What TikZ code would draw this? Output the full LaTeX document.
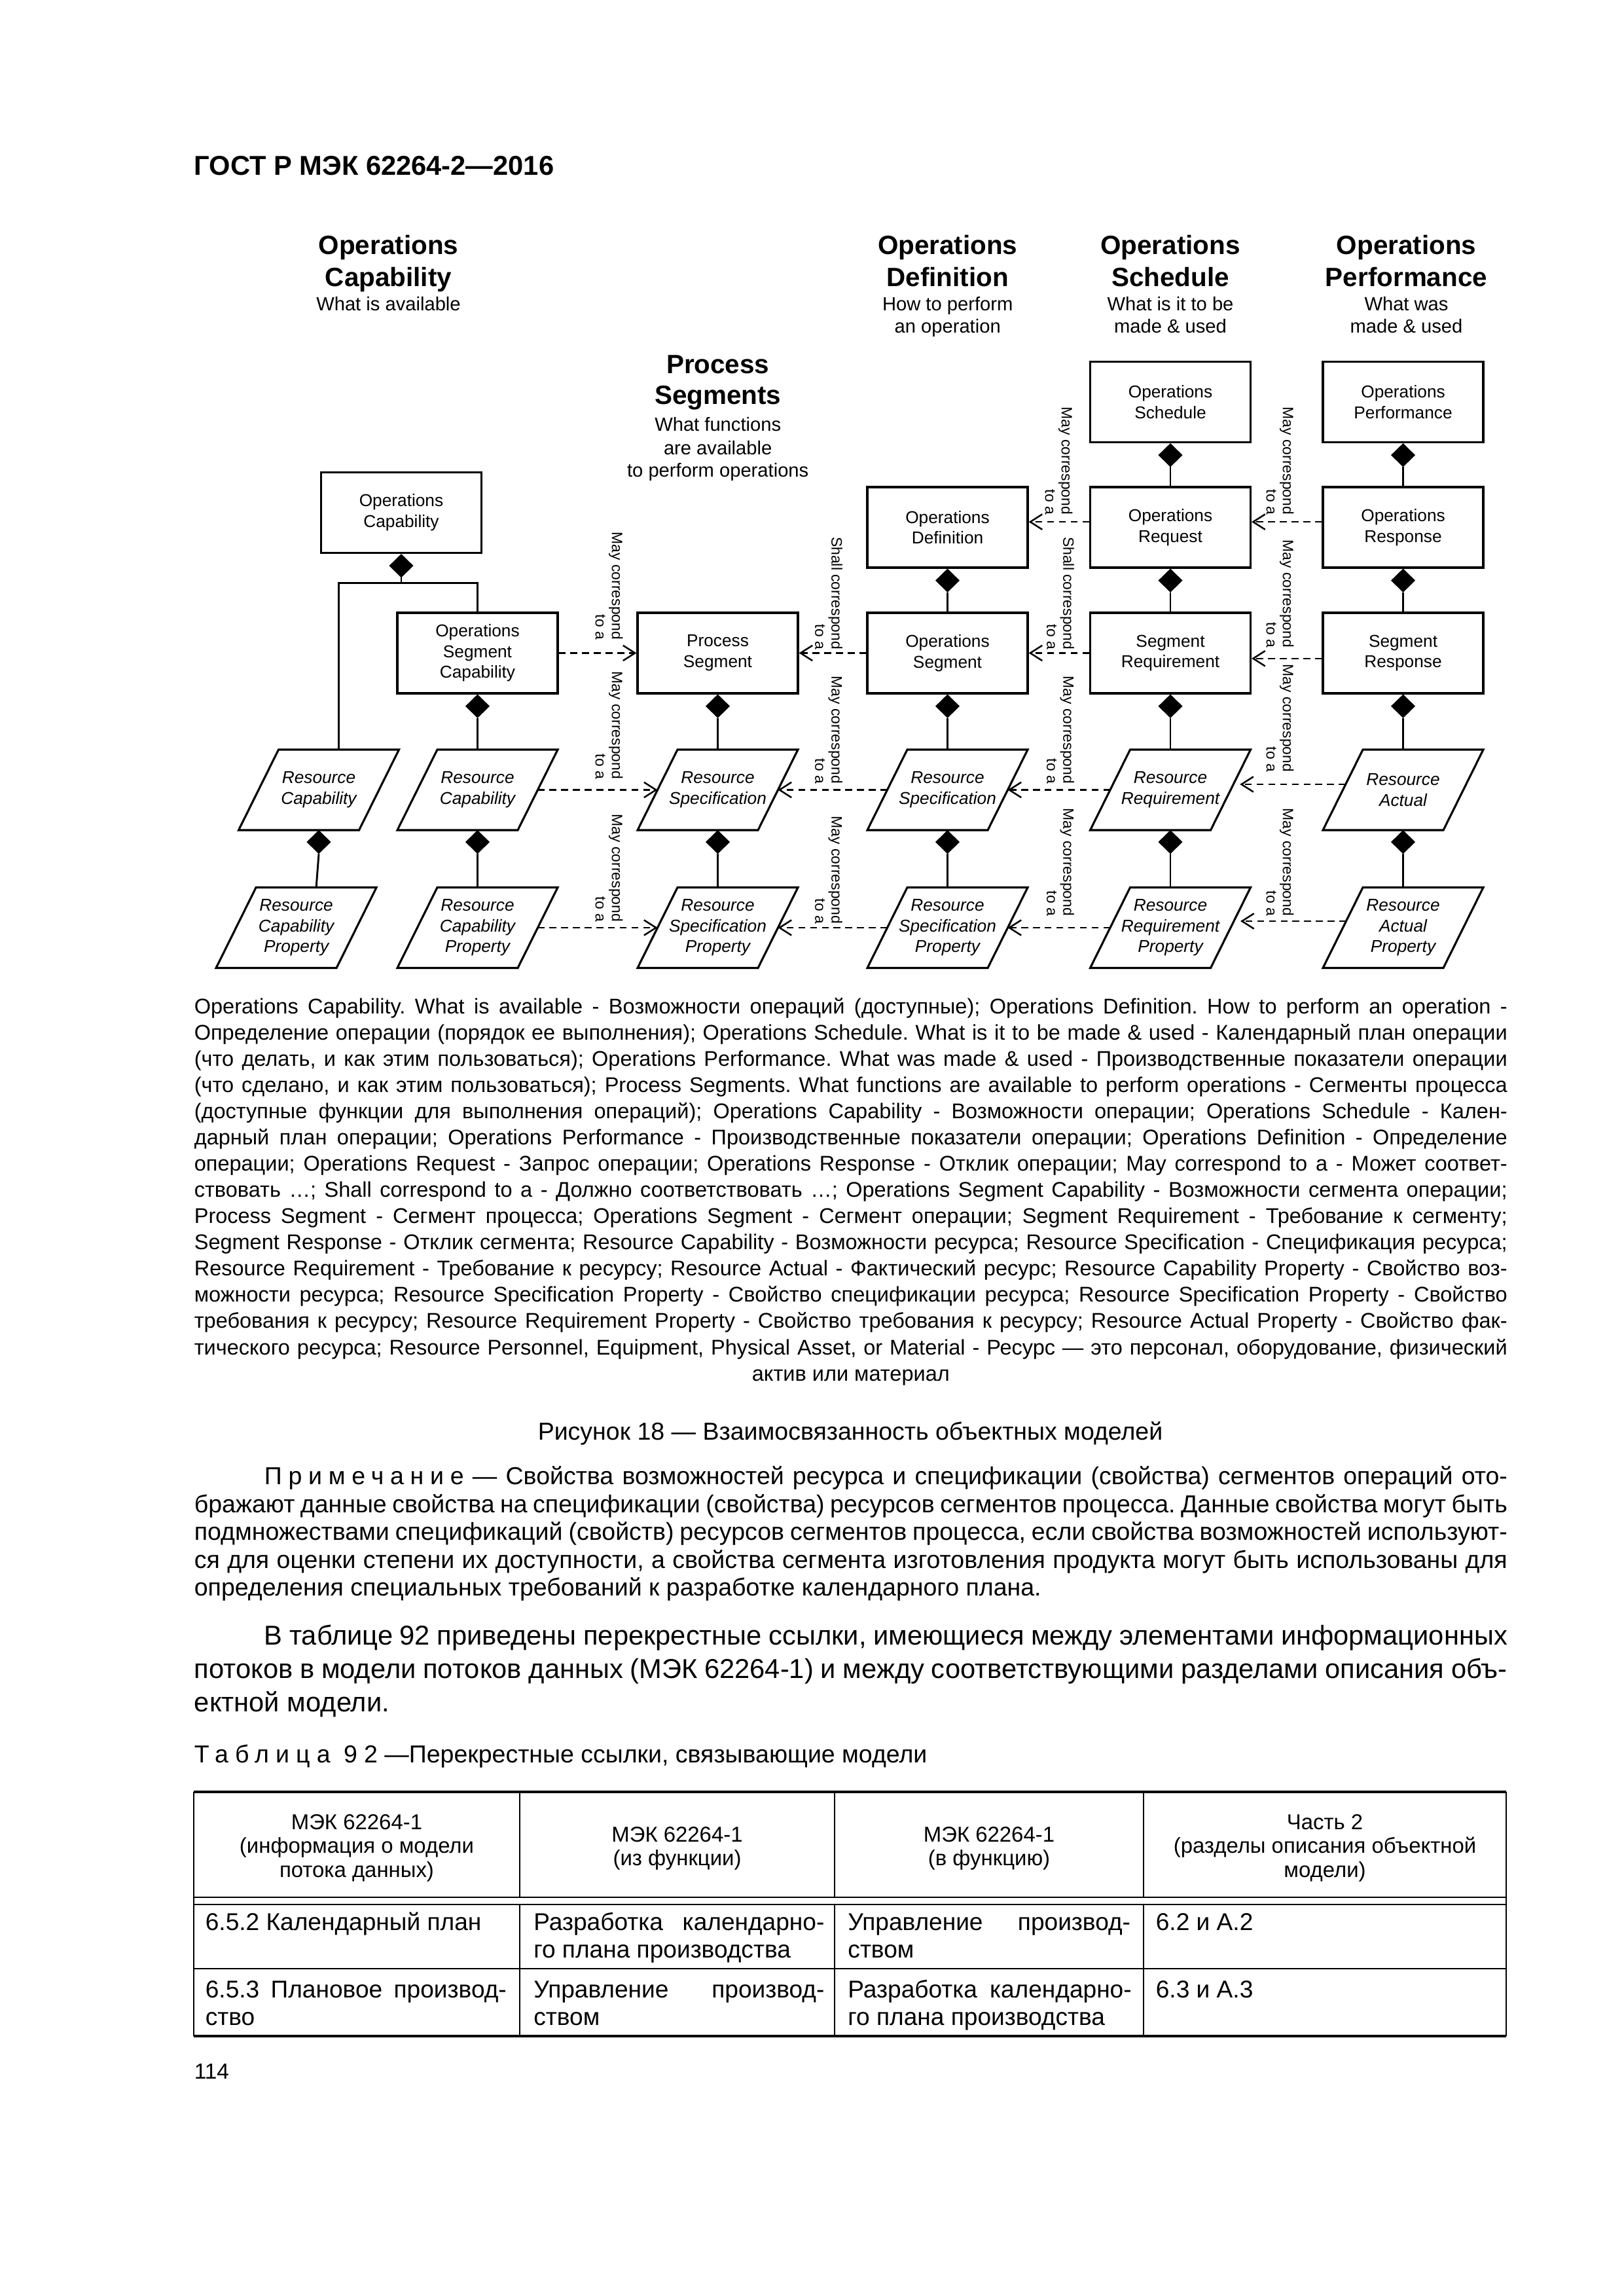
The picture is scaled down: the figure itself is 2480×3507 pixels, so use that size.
\documentclass[tikz,border=0pt]{standalone}
\usepackage{fontspec}
\setmainfont{Liberation Sans}
\usetikzlibrary{arrows.meta,calc,shapes.geometric}
\tolerance=9999
\hyphenpenalty=10000
\frenchspacing
\newcommand{\paraline}[1]{%
  \draw[line width=0.75pt,line join=miter] (#1.south west) -- ($(#1.south west)+(184,0)$) -- (#1.north east) -- ($(#1.north east)+(-184,0)$) -- cycle;}
\begin{document}
\begin{tikzpicture}[x=0.24pt,y=-0.24pt,
  objbox/.style={draw,line width=0.75pt,minimum width=58.8pt,minimum height=29.52pt,inner sep=0pt,align=center,font=\fontsize{6.3}{7.6}\selectfont},
  parabox/.style={minimum width=58.8pt,minimum height=29.52pt,inner sep=0pt,outer sep=0pt,align=center,font=\fontsize{6.3}{7.6}\selectfont\itshape},
  compdia/.style={diamond,fill=black,inner sep=0pt,outer sep=0pt,minimum width=8.9pt,minimum height=8.7pt,anchor=north},
  solidlink/.style={line width=0.7pt},
  corrarrow/.style={line width=0.6pt,dash pattern=on 2.5pt off 1.8pt,-{Straight Barb[length=4.4pt,width=5.6pt,line width=0.6pt]}},
  corrlabel/.style={rotate=-90,anchor=east,align=right,inner sep=0pt,font=\fontsize{5.5}{6}\selectfont},
  hdtitle/.style={anchor=base,inner sep=0pt,font=\fontsize{9.7}{11}\selectfont\bfseries},
  hdsub/.style={anchor=base,inner sep=0pt,font=\fontsize{7}{8}\selectfont},
  plaintext/.style={anchor=base west,inner sep=0pt},
  tblhead/.style={anchor=base,inner sep=0pt,font=\fontsize{7.9}{8.8}\selectfont},
  tblcell/.style={anchor=base west,inner sep=0pt,align=justify,font=\fontsize{8.9}{10.1}\selectfont},
  tblrule/.style={line width=0.55pt},
  tblouter/.style={line width=0.8pt}
]
\fill[white] (0,0) rectangle (2480,3507);
\useasboundingbox (0,0) rectangle (2480,3507);

% page header
\node[plaintext,font=\fontsize{10}{12}\selectfont\bfseries] (pghead) at (296,268) {ГОСТ Р МЭК 62264-2—2016};

% column headers
\node[hdtitle] (h1a) at (593.5,389) {Operations};
\node[hdtitle] (h1b) at (593.5,437.5) {Capability};
\node[hdsub] (h1c) at (593.5,475) {What is available};

\node[hdtitle] (h2a) at (1096.7,571) {Process};
\node[hdtitle] (h2b) at (1096.7,618) {Segments};
\node[hdsub] (h2c) at (1096.7,659) {What functions};
\node[hdsub] (h2d) at (1096.7,695) {are available};
\node[hdsub] (h2e) at (1096.7,729) {to perform operations};

\node[hdtitle] (h3a) at (1447.7,389) {Operations};
\node[hdtitle] (h3b) at (1447.7,437.5) {Definition};
\node[hdsub] (h3c) at (1447.7,475) {How to perform};
\node[hdsub] (h3d) at (1447.7,509) {an operation};

\node[hdtitle] (h4a) at (1788,389) {Operations};
\node[hdtitle] (h4b) at (1788,437.5) {Schedule};
\node[hdsub] (h4c) at (1788,475) {What is it to be};
\node[hdsub] (h4d) at (1788,509) {made \& used};

\node[hdtitle] (h5a) at (2148.5,389) {Operations};
\node[hdtitle] (h5b) at (2148.5,437.5) {Performance};
\node[hdsub] (h5c) at (2148.5,475) {What was};
\node[hdsub] (h5d) at (2148.5,509) {made \& used};

% boxes
\node[objbox] (oc) at (613,783) {Operations\\Capability};
\node[objbox] (osc) at (729.5,997.5) {Operations\\Segment\\Capability};
\node[objbox] (ps) at (1096.5,997.5) {Process\\Segment};
\node[objbox] (od) at (1447.5,805.5) {Operations\\Definition};
\node[objbox] (oseg) at (1447.5,997.5) {Operations\\Segment};
\node[objbox] (osch) at (1788,614) {Operations\\Schedule};
\node[objbox] (oreq) at (1788,805.5) {Operations\\Request};
\node[objbox] (sreq) at (1788,997.5) {Segment\\Requirement};
\node[objbox] (operf) at (2143.5,614) {Operations\\Performance};
\node[objbox] (oresp) at (2143.5,805.5) {Operations\\Response};
\node[objbox] (sresp) at (2143.5,997.5) {Segment\\Response};

% parallelograms
\node[parabox] (rc0) at (487,1206.5) {Resource\\Capability};
\node[parabox] (rc1) at (729.5,1206.5) {Resource\\Capability};
\node[parabox] (rs2) at (1096.5,1206.5) {Resource\\Specification};
\node[parabox] (rs3) at (1447.5,1206.5) {Resource\\Specification};
\node[parabox] (rr4) at (1788,1206.5) {Resource\\Requirement};
\node[parabox] (ra5) at (2143.5,1206.5) {Resource\\Actual};
\node[parabox] (rcp0) at (452.6,1417) {Resource\\Capability\\Property};
\node[parabox] (rcp1) at (729.5,1417) {Resource\\Capability\\Property};
\node[parabox] (rsp2) at (1096.5,1417) {Resource\\Specification\\Property};
\node[parabox] (rsp3) at (1447.5,1417) {Resource\\Specification\\Property};
\node[parabox] (rrp4) at (1788,1417) {Resource\\Requirement\\Property};
\node[parabox] (rap5) at (2143.5,1417) {Resource\\Actual\\Property};
\foreach \p in {rc0,rc1,rs2,rs3,rr4,ra5,rcp0,rcp1,rsp2,rsp3,rrp4,rap5} {\paraline{\p}}

% composition diamonds
\foreach \p in {oc,osc,ps,od,oseg,osch,oreq,sreq,operf,oresp,sresp,rc0,rc1,rs2,rs3,rr4,ra5}
  {\node[compdia] (d-\p) at (\p.south) {};}

% composition links
\draw[solidlink] (d-oc.south) -- ++(0,8) coordinate (ocbr);
\draw[solidlink] (ocbr) -| (osc.north);
\draw[solidlink] (ocbr) -| ($(rc0.north)+(30.5,0)$);
\draw[solidlink] (d-osch.south) -- (oreq.north);
\draw[solidlink] (d-operf.south) -- (oresp.north);
\draw[solidlink] (d-od.south) -- (oseg.north);
\draw[solidlink] (d-oreq.south) -- (sreq.north);
\draw[solidlink] (d-oresp.south) -- (sresp.north);
\draw[solidlink] (d-osc.south) -- (rc1.north);
\draw[solidlink] (d-ps.south) -- (rs2.north);
\draw[solidlink] (d-oseg.south) -- (rs3.north);
\draw[solidlink] (d-sreq.south) -- (rr4.north);
\draw[solidlink] (d-sresp.south) -- (ra5.north);
\draw[solidlink] (d-rc0.south) -- ($(rcp0.north)+(30.5,0)$);
\draw[solidlink] (d-rc1.south) -- (rcp1.north);
\draw[solidlink] (d-rs2.south) -- (rsp2.north);
\draw[solidlink] (d-rs3.south) -- (rsp3.north);
\draw[solidlink] (d-rr4.south) -- (rrp4.north);
\draw[solidlink] (d-ra5.south) -- (rap5.north);

% correspondence arrows
\draw[corrarrow] (osc.east) -- (ps.west);
\draw[corrarrow] (oseg.west) -- (ps.east);
\draw[corrarrow] (sreq.west) -- (oseg.east);
\draw[corrarrow] ([yshift=-2pt]sresp.west) -- ([yshift=-2pt]sreq.east);
\draw[corrarrow] ([yshift=2pt]oreq.west) -- ([yshift=2pt]od.east);
\draw[corrarrow] ([yshift=2pt]oresp.west) -- ([yshift=2pt]oreq.east);
\draw[corrarrow] ($(rc1.east)+(-30.5,0)$) -- ($(rs2.west)+(30.5,0)$);
\draw[corrarrow] ($(rs3.west)+(30.5,0)$) -- ($(rs2.east)+(-30.5,0)$);
\draw[corrarrow] ($(rr4.west)+(30.5,0)$) -- ($(rs3.east)+(-30.5,0)$);
\draw[corrarrow,shorten >=2.4pt] ($(ra5.west)+(34.7,-8.5)$) -- ($(rr4.east)+(-26.3,-8.5)$);
\draw[corrarrow] ($(rcp1.east)+(-30.5,0)$) -- ($(rsp2.west)+(30.5,0)$);
\draw[corrarrow] ($(rsp3.west)+(30.5,0)$) -- ($(rsp2.east)+(-30.5,0)$);
\draw[corrarrow] ($(rrp4.west)+(30.5,0)$) -- ($(rsp3.east)+(-30.5,0)$);
\draw[corrarrow,shorten >=2.4pt] ($(rap5.west)+(35.5,-10)$) -- ($(rrp4.east)+(-25.5,-10)$);

% correspondence labels
\node[corrlabel] (l1) at (930.5,978) {May correspond\\to a};
\node[corrlabel] (l2) at (1266,993) {Shall correspond\\to a};
\node[corrlabel] (l3) at (1620,993) {Shall correspond\\to a};
\node[corrlabel] (l4) at (1955.5,990) {May correspond\\to a};
\node[corrlabel] (l5) at (1617.5,787) {May correspond\\to a};
\node[corrlabel] (l6) at (1955.5,787) {May correspond\\to a};
\node[corrlabel] (l7) at (930.5,1191) {May correspond\\to a};
\node[corrlabel] (l8) at (1266,1198) {May correspond\\to a};
\node[corrlabel] (l9) at (1620,1198) {May correspond\\to a};
\node[corrlabel] (l10) at (1955.5,1180) {May correspond\\to a};
\node[corrlabel] (l11) at (930.5,1409) {May correspond\\to a};
\node[corrlabel] (l12) at (1266,1412) {May correspond\\to a};
\node[corrlabel] (l13) at (1620,1400) {May correspond\\to a};
\node[corrlabel] (l14) at (1955.5,1400) {May correspond\\to a};

% legend
\node[plaintext,text width=481.44pt,align=justify,font=\fontsize{7.8}{9.62}\selectfont] (legend) at (296,1548) {%
Operations Capability. What is available - Возможности операций (доступные); Operations Definition. How to perform an operation -\linebreak
Определение операции (порядок ее выполнения); Operations Schedule. What is it to be made \& used - Календарный план операции\linebreak
(что делать, и как этим пользоваться); Operations Performance. What was made \& used - Производственные показатели операции\linebreak
(что сделано, и как этим пользоваться); Process Segments. What functions are available to perform operations - Сегменты процесса\linebreak
(доступные функции для выполнения операций); Operations Capability - Возможности операции; Operations Schedule - Кален-\linebreak
дарный план операции; Operations Performance - Производственные показатели операции; Operations Definition - Определение\linebreak
операции; Operations Request - Запрос операции; Operations Response - Отклик операции; May correspond to a - Может соответ-\linebreak
ствовать …; Shall correspond to a - Должно соответствовать …; Operations Segment Capability - Возможности сегмента операции;\linebreak
Process Segment - Сегмент процесса; Operations Segment - Сегмент операции; Segment Requirement - Требование к сегменту;\linebreak
Segment Response - Отклик сегмента; Resource Capability - Возможности ресурса; Resource Specification - Спецификация ресурса;\linebreak
Resource Requirement - Требование к ресурсу; Resource Actual - Фактический ресурс; Resource Capability Property - Свойство воз-\linebreak
можности ресурса; Resource Specification Property - Свойство спецификации ресурса; Resource Specification Property - Свойство\linebreak
требования к ресурсу; Resource Requirement Property - Свойство требования к ресурсу; Resource Actual Property - Свойство фак-\linebreak
тического ресурса; Resource Personnel, Equipment, Physical Asset, or Material - Ресурс — это персонал, оборудование, физический\parfillskip=0pt\par
\centerline{актив или материал}};

\node[anchor=base,inner sep=0pt,font=\fontsize{9}{10.8}\selectfont] (figcap) at (1299,2199.7) {Рисунок 18 — Взаимосвязанность объектных моделей};

\node[plaintext,text width=481.44pt,align=justify,font=\fontsize{9}{10.2}\selectfont] (note) at (296,2267.7) {%
\hspace*{25.7pt}{\addfontfeature{LetterSpace=26}Примечание} — Свойства возможностей ресурса и спецификации (свойства) сегментов операций ото-\linebreak
бражают данные свойства на спецификации (свойства) ресурсов сегментов процесса. Данные свойства могут быть\linebreak
подмножествами спецификаций (свойств) ресурсов сегментов процесса, если свойства возможностей используют-\linebreak
ся для оценки степени их доступности, а свойства сегмента изготовления продукта могут быть использованы для\linebreak
определения специальных требований к разработке календарного плана.};

\node[plaintext,text width=481.44pt,align=justify,font=\fontsize{10}{12.3}\selectfont] (intro) at (296,2512) {%
\hspace*{25.7pt}В таблице 92 приведены перекрестные ссылки, имеющиеся между элементами информационных\linebreak
потоков в модели потоков данных (МЭК 62264-1) и между соответствующими разделами описания объ-\linebreak
ектной модели.};

\node[plaintext,font=\fontsize{9}{10.8}\selectfont] (tblcap) at (296,2692) {{\addfontfeature{LetterSpace=27}Таблица 92} —Перекрестные ссылки, связывающие модели};

% table rules
\draw[tblouter] (296,2737) -- (2301,2737);
\draw[tblouter] (296,3110) -- (2301,3110);
\draw[tblrule] (296,2737) -- (296,3110);
\draw[tblrule] (2301,2737) -- (2301,3110);
\foreach \cx in {794,1275,1747} {
  \draw[tblrule] (\cx,2737) -- (\cx,2898);
  \draw[tblrule] (\cx,2909) -- (\cx,3110);
}
\draw[tblrule] (296,2898) -- (2301,2898);
\draw[tblrule] (296,2909) -- (2301,2909);
\draw[tblrule] (296,3007) -- (2301,3007);

% table header
\node[tblhead] (th1a) at (545,2794) {МЭК 62264-1};
\node[tblhead] (th1b) at (545,2830.5) {(информация о модели};
\node[tblhead] (th1c) at (545,2867) {потока данных)};
\node[tblhead] (th2a) at (1034.5,2813) {МЭК 62264-1};
\node[tblhead] (th2b) at (1034.5,2849.5) {(из функции)};
\node[tblhead] (th3a) at (1511,2813) {МЭК 62264-1};
\node[tblhead] (th3b) at (1511,2849.5) {(в функцию)};
\node[tblhead] (th4a) at (2024,2794) {Часть 2};
\node[tblhead] (th4b) at (2024,2830.5) {(разделы описания объектной};
\node[tblhead] (th4c) at (2024,2867) {модели)};

% table body
\node[tblcell,text width=110.4pt] (c11) at (313,2948) {6.5.2 Календарный план};
\node[tblcell,text width=106.6pt] (c12) at (814.5,2948) {Разработка календарно-\linebreak го плана производства};
\node[tblcell,text width=103.6pt] (c13) at (1294.6,2948) {Управление производ-\linebreak ством};
\node[tblcell,text width=120pt] (c14) at (1765,2948) {6.2 и А.2};
\node[tblcell,text width=110.4pt] (c21) at (313,3051) {6.5.3 Плановое производ-\linebreak ство};
\node[tblcell,text width=106.6pt] (c22) at (814.5,3051) {Управление производ-\linebreak ством};
\node[tblcell,text width=104pt] (c23) at (1294.6,3051) {Разработка календарно-\linebreak го плана производства};
\node[tblcell,text width=120pt] (c24) at (1765,3051) {6.3 и А.3};

\node[plaintext,font=\fontsize{8}{9.6}\selectfont] (pgnum) at (296,3175) {114};
\end{tikzpicture}
\end{document}
